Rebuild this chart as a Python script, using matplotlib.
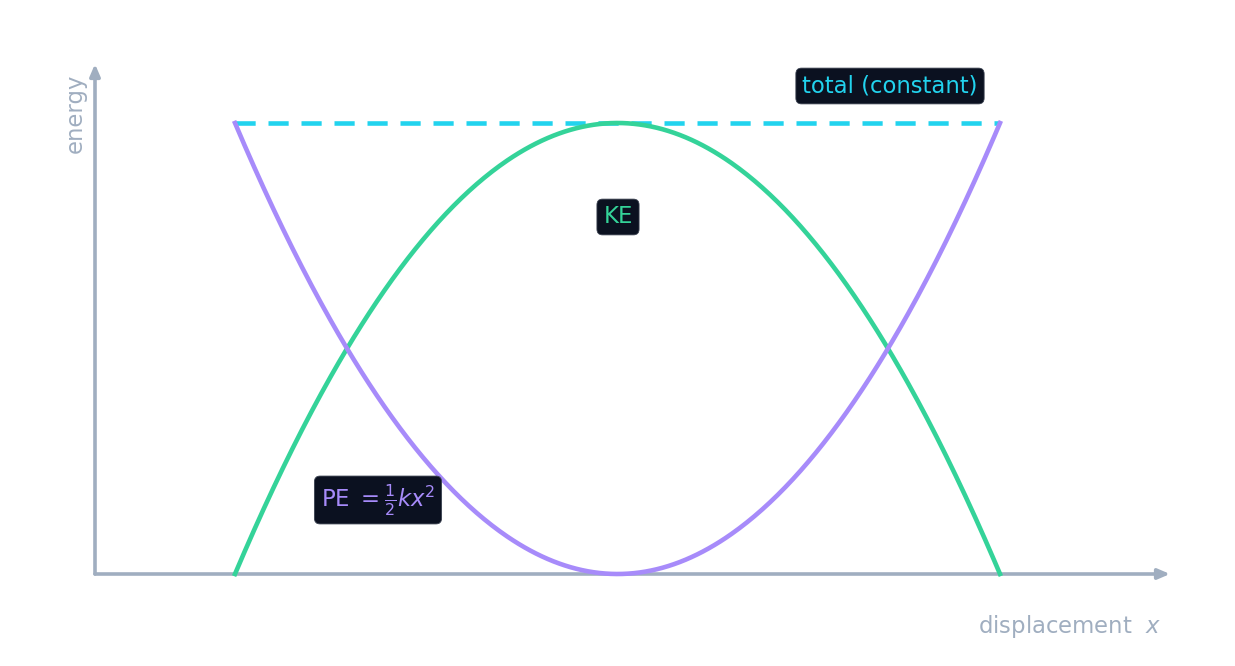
import numpy as np
import matplotlib
matplotlib.use("Agg")
import matplotlib.pyplot as plt

# parameters of the oscillator (energy normalized so total E = 1)
amplitude = 1.0
k_spring = 2.0
total_energy = 0.5 * k_spring * amplitude ** 2
n_samples = 400

x = np.linspace(-amplitude, amplitude, n_samples)
pe = 0.5 * k_spring * x ** 2
ke = total_energy - pe
total = np.full_like(x, total_energy)

labels = {"pe": r"PE $=\frac{1}{2}kx^2$", "ke": "KE", "total": "total (constant)",
          "xlabel": r"displacement  $x$", "ylabel": "energy"}

C_PE = "#a78bfa"
C_KE = "#34d399"
C_TOT = "#22d3ee"
C_AX = "#a0aec0"
C_BOX = "#0b1120"

fig = plt.figure(figsize=(12.35, 6.66), dpi=100)
ax = fig.add_axes([0, 0, 1, 1])
# pixel mapping: x=-1 -> 235px, x=1 -> 1000px ; y=0 -> 574px, y=1 -> 123px
sx = 382.5
cx = 617.5
sy = 451.0
y0 = 574.0
ax.set_xlim((0 - cx) / sx, (1235 - cx) / sx)
ax.set_ylim((y0 - 666) / sy, y0 / sy)
ax.axis("off")

def px(u):
    return (u - cx) / sx

def py(v):
    return (y0 - v) / sy

# axes arrows
ax.annotate("", xy=(px(1170), 0), xytext=(px(95), 0),
            arrowprops=dict(arrowstyle="-|>,head_length=0.7,head_width=0.3", color=C_AX, lw=2.6,
                            shrinkA=0, shrinkB=0))
ax.annotate("", xy=(px(95), py(64)), xytext=(px(95), 0),
            arrowprops=dict(arrowstyle="-|>,head_length=0.7,head_width=0.3", color=C_AX, lw=2.6,
                            shrinkA=0, shrinkB=0))

ax.plot(x, total, color=C_TOT, lw=3.3, dashes=(4.4, 2.8), solid_capstyle="butt", zorder=3)
ax.plot(x, ke, color=C_KE, lw=3.3, zorder=4)
ax.plot(x, pe, color=C_PE, lw=3.3, zorder=5)

box = dict(boxstyle="round,pad=0.28,rounding_size=0.25", fc=C_BOX, ec="#3a4150", lw=0.6)
ax.text(px(618), py(217), labels["ke"], color=C_KE, fontsize=16.4, ha="center", va="center", bbox=box, zorder=6)
ax.text(px(378), py(500), labels["pe"], color=C_PE, fontsize=16.4, ha="center", va="center", bbox=box, zorder=6)
ax.text(px(890), py(86), labels["total"], color=C_TOT, fontsize=16.4, ha="center", va="center", bbox=box, zorder=6)

ax.text(px(1161), py(627), labels["xlabel"], color=C_AX, fontsize=16.4, ha="right", va="center")
ax.text(px(75), py(113), labels["ylabel"], color=C_AX, fontsize=16.4, ha="center", va="center", rotation=90)

fig.savefig("out.png", dpi=100, facecolor="white")
